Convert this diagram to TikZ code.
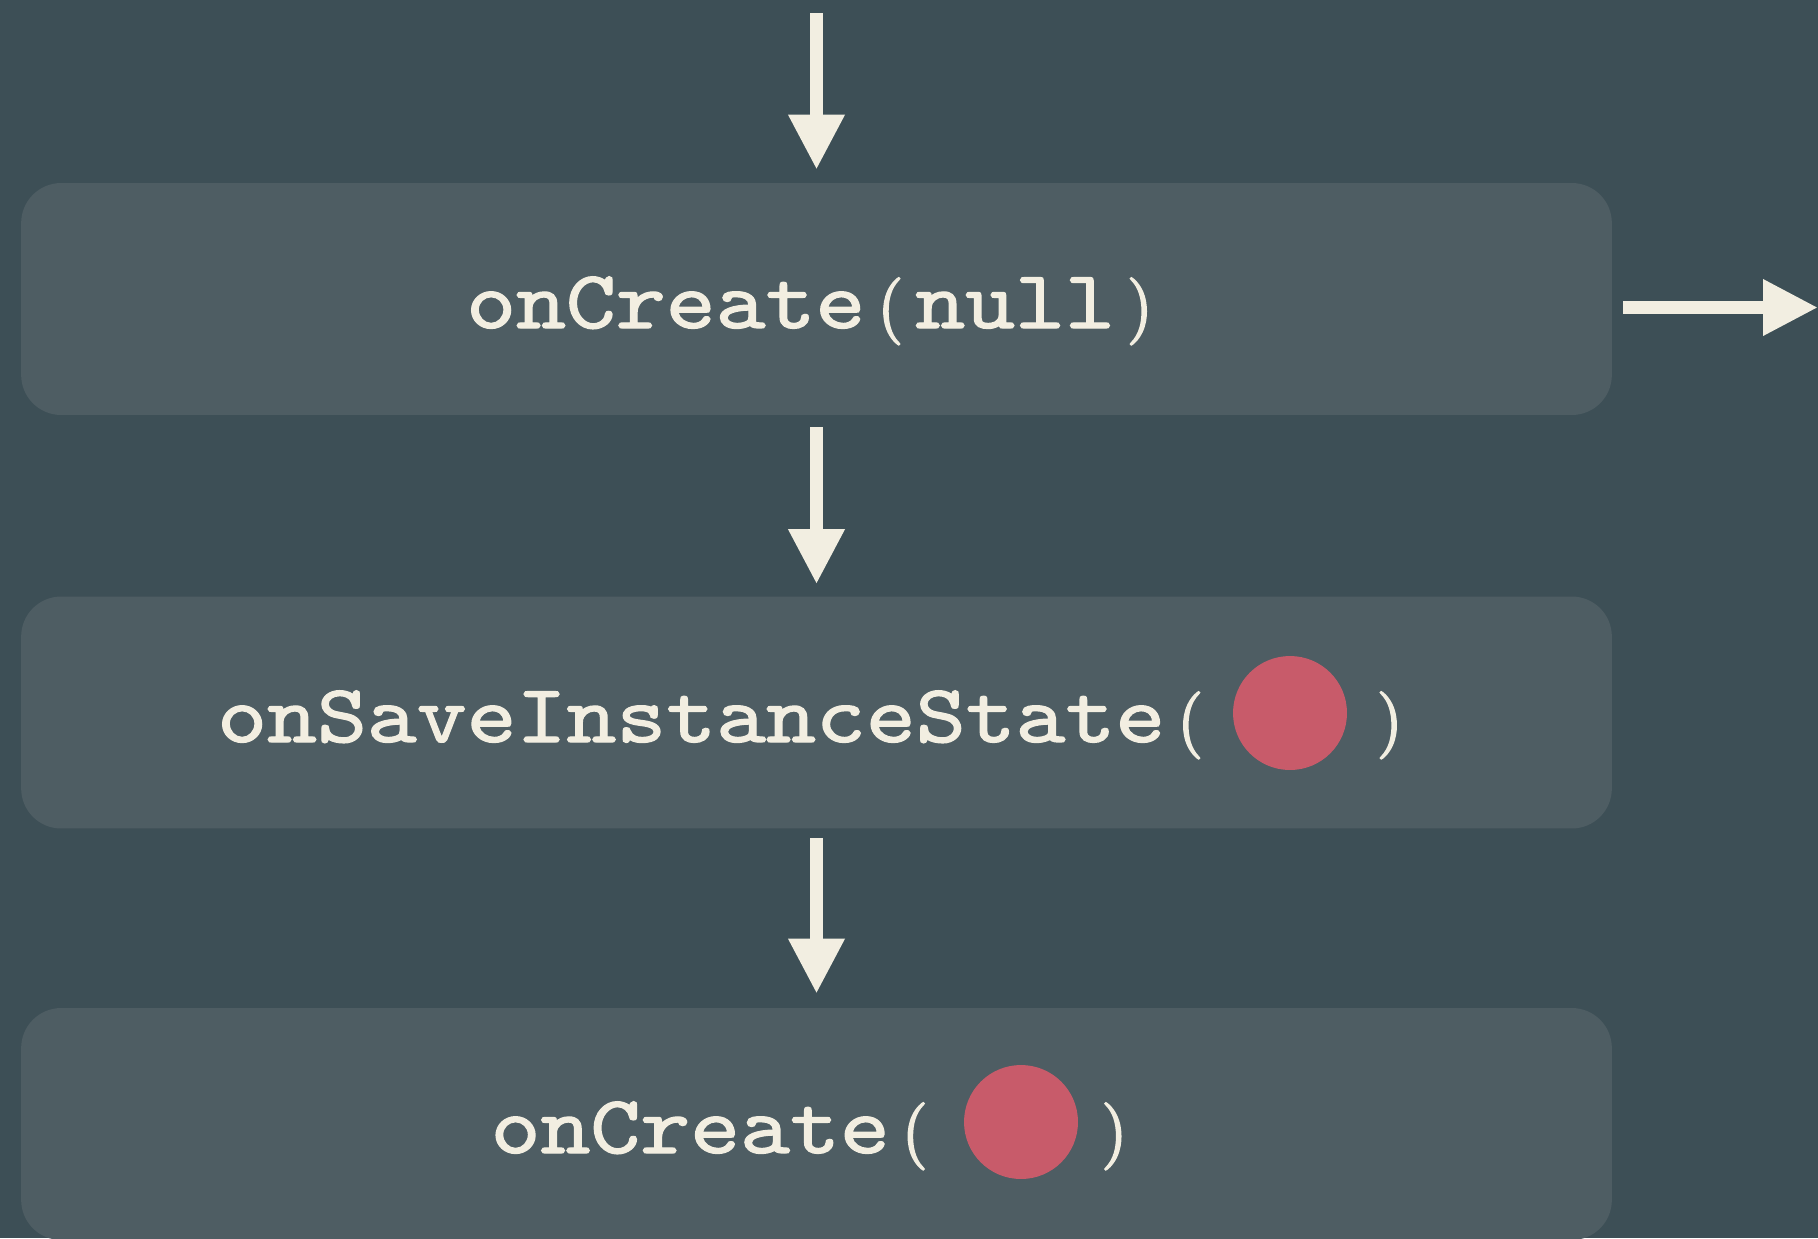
\documentclass[tikz,border=0pt]{standalone}
\usepackage{fontspec}
\newfontfamily\codefont{lmmono10-regular.otf}[FakeStretch=1.151,FakeBold=1.6]
\newfontfamily\parenfont{lmroman10-regular.otf}[FakeBold=2.6]
\newcommand\LP{\makebox[28.4pt][c]{\parenfont\fontsize{38pt}{40pt}\selectfont(}}
\newcommand\RP{\makebox[28.4pt][c]{\parenfont\fontsize{38pt}{40pt}\selectfont)}}
\usetikzlibrary{arrows.meta}
\definecolor{bgc}{RGB}{61,79,86}
\definecolor{boxc}{RGB}{78,93,99}
\definecolor{cream}{RGB}{242,238,225}
\definecolor{dotc}{RGB}{200,91,106}
\begin{document}
\begin{tikzpicture}[x=0.02cm,y=-0.02cm,
  box/.style={fill=boxc, rounded corners=0.8cm, minimum width=31.82cm, minimum height=4.64cm, inner sep=0pt},
  code/.style={text=cream, inner sep=0pt, anchor=base, font=\codefont\fontsize{47pt}{56pt}\selectfont},
  flow/.style={draw=cream, line width=0.26cm, -{Triangle[length=1.1cm,width=1.06cm]}},
  dot/.style={circle, fill=dotc, minimum size=2.28cm, inner sep=0pt}]
\fill[bgc] (0,0) rectangle (1818,1238);
\useasboundingbox (0,0) rectangle (1818,1238);
\node[box] (b1) at (816.5,299) {};
\node[box] (b2) at (816.5,712.5) {};
\node[box] (b3) at (816.5,1124) {};
\node[code] (t1) at (815.5,328) {onCreate\LP null\RP};
\node[code] (t2) at (816,742) {onSaveInstanceState\LP\ \ \ \RP};
\node[code] (t3) at (815,1153) {onCreate\LP\ \ \ \RP};
\node[dot] (c2) at (1290,713) {};
\node[dot] (c3) at (1021,1122) {};
\coordinate (top) at (816.5,13);
\coordinate (out) at (1818,307.5);
\draw[flow, shorten >=0.26cm] (top) -- (b1.north);
\draw[flow, shorten <=0.24cm, shorten >=0.24cm] (b1.south) -- (b2.north);
\draw[flow, shorten <=0.18cm, shorten >=0.28cm] (b2.south) -- (b3.north);
\draw[flow, shorten <=0.22cm] (b1.east |- out) -- (out);
\end{tikzpicture}
\end{document}
